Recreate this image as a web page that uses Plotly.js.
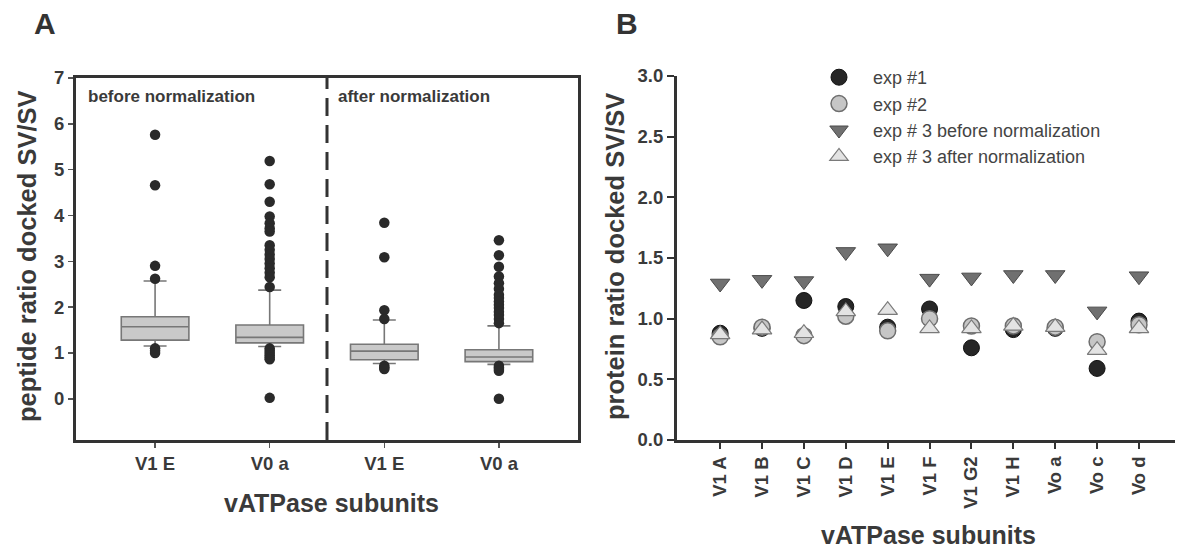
<!DOCTYPE html>
<html>
<head>
<meta charset="utf-8">
<script src="https://cdn.plot.ly/plotly-3.0.1.min.js"></script>
<style>html,body{margin:0;padding:0;background:#fff;}#chart{width:1177px;height:548px;}</style>
</head>
<body>
<div id="chart"></div>
<script>
// ---------- Panel A data (box plots) ----------
const boxPositions = [0, 1, 2, 3];
const boxTickLabels = ["V1 E", "V0 a", "V1 E", "V0 a"];
const boxQ1 = [1.28, 1.22, 0.85, 0.81];
const boxMedian = [1.57, 1.34, 1.04, 0.91];
const boxQ3 = [1.79, 1.61, 1.19, 1.07];
const boxLowerFence = [1.15, 1.14, 0.77, 0.75];
const boxUpperFence = [2.57, 2.37, 1.72, 1.59];

const outV1E_before = [5.76, 4.66, 2.90, 2.62, 1.10, 1.05, 1.00];
const outV0a_before = [5.19, 4.68, 4.30, 3.98, 3.83, 3.72, 3.65, 3.35, 3.25, 3.15, 3.05, 2.95, 2.85, 2.75, 2.65, 2.44, 1.10, 1.05, 1.00, 0.95, 0.90, 0.86, 0.02];
const outV1E_after = [3.84, 3.09, 1.93, 1.74, 0.72, 0.68, 0.65];
const outV0a_after = [3.46, 3.13, 2.88, 2.67, 2.52, 2.40, 2.27, 2.20, 2.12, 2.05, 1.98, 1.90, 1.83, 1.74, 1.65, 0.72, 0.68, 0.65, 0.61, 0.00];

// ---------- Panel B data ----------
const subunits = ["V1 A", "V1 B", "V1 C", "V1 D", "V1 E", "V1 F", "V1 G2", "V1 H", "Vo a", "Vo c", "Vo d"];
const exp1 = [0.88, 0.92, 1.15, 1.10, 0.93, 1.08, 0.76, 0.91, 0.92, 0.59, 0.98];
const exp2 = [0.85, 0.93, 0.86, 1.02, 0.90, 1.00, 0.94, 0.94, 0.93, 0.81, 0.95];
const exp3Before = [1.29, 1.32, 1.31, 1.55, 1.58, 1.33, 1.34, 1.36, 1.36, 1.06, 1.35];
const exp3After = [0.87, 0.91, 0.88, 1.06, 1.07, 0.92, 0.92, 0.94, 0.93, 0.74, 0.92];
const legendNames = ["exp #1", "exp #2", "exp # 3 before normalization", "exp # 3 after normalization"];

// ---------- helpers ----------
const W = 1177, H = 548;
const px = x => x / W;
const py = y => 1 - y / H;
const FONT = "Liberation Sans, Arial, Helvetica, sans-serif";
const TXT = "#3a3a3a";
const AX = "#333333";

const outX = [], outY = [];
[outV1E_before, outV0a_before, outV1E_after, outV0a_after].forEach((arr, i) => {
  arr.forEach(v => { outX.push(boxPositions[i]); outY.push(v); });
});

const traces = [
  {
    type: "box", xaxis: "x", yaxis: "y",
    x: boxPositions, q1: boxQ1, median: boxMedian, q3: boxQ3,
    lowerfence: boxLowerFence, upperfence: boxUpperFence,
    boxpoints: false, width: 0.59, whiskerwidth: 0.34,
    fillcolor: "#c9c9c9", line: {color: "#777777", width: 1.6},
    showlegend: false, hoverinfo: "skip"
  },
  {
    type: "scatter", mode: "markers", xaxis: "x", yaxis: "y",
    x: outX, y: outY,
    marker: {size: 10.5, color: "#2a2a2a"},
    showlegend: false, hoverinfo: "skip"
  },
  {
    type: "scatter", mode: "markers", xaxis: "x2", yaxis: "y2", name: legendNames[0],
    x: subunits, y: exp1,
    marker: {symbol: "circle", size: 16, color: "#262626", line: {color: "#111111", width: 1}}
  },
  {
    type: "scatter", mode: "markers", xaxis: "x2", yaxis: "y2", name: legendNames[1],
    x: subunits, y: exp2,
    marker: {symbol: "circle", size: 16, color: "#c6c6c6", line: {color: "#6e6e6e", width: 1.5}}
  },
  {
    type: "scatter", mode: "markers", xaxis: "x2", yaxis: "y2", name: legendNames[2],
    x: subunits, y: exp3Before,
    marker: {symbol: "triangle-down", size: 17, color: "#707070", line: {color: "#4a4a4a", width: 1}}
  },
  {
    type: "scatter", mode: "markers", xaxis: "x2", yaxis: "y2", name: legendNames[3],
    x: subunits, y: exp3After,
    marker: {symbol: "triangle-up", size: 17, color: "#e3e3e3", line: {color: "#7a7a7a", width: 1.2}}
  }
];

const tickFont = {family: FONT, size: 18.5, color: TXT, weight: "bold"};

const layout = {
  width: W, height: H,
  margin: {l: 0, r: 0, t: 0, b: 0},
  paper_bgcolor: "#ffffff", plot_bgcolor: "#ffffff",
  font: {family: FONT, color: TXT},
  showlegend: true,
  legend: {
    x: px(805), y: py(59), xanchor: "left", yanchor: "top",
    font: {family: FONT, size: 18, color: "#444444"},
    itemwidth: 58, tracegroupgap: 0, bgcolor: "rgba(0,0,0,0)"
  },
  xaxis: {
    domain: [px(76), px(578)], anchor: "y",
    range: [-0.69, 3.69], tickvals: boxPositions, ticktext: boxTickLabels,
    showline: true, linewidth: 3, linecolor: AX, mirror: true,
    ticks: "outside", ticklen: 5, tickwidth: 1.5, tickcolor: "#555",
    showgrid: false, zeroline: false, tickfont: tickFont
  },
  yaxis: {
    domain: [py(440), py(78)], anchor: "x",
    range: [-0.9, 7], dtick: 1, tick0: 0,
    showline: true, linewidth: 3, linecolor: AX, mirror: true,
    ticks: "outside", ticklen: 5, tickwidth: 1.5, tickcolor: "#555",
    showgrid: false, zeroline: false, tickfont: tickFont
  },
  xaxis2: {
    domain: [px(677), px(1175)], anchor: "y2", type: "category",
    range: [-1.03, 10.86], tickangle: -90,
    showline: true, linewidth: 3, linecolor: AX,
    ticks: "outside", ticklen: 6, tickwidth: 2, tickcolor: AX,
    showgrid: false, zeroline: false, tickfont: tickFont
  },
  yaxis2: {
    domain: [py(440), py(76)], anchor: "x2",
    range: [0, 3], dtick: 0.5, tick0: 0, tickformat: ".1f",
    showline: true, linewidth: 3, linecolor: AX,
    ticks: "outside", ticklen: 7, tickwidth: 2, tickcolor: AX,
    showgrid: false, zeroline: false, tickfont: tickFont
  },
  shapes: [
    {type: "line", xref: "x", yref: "y domain", x0: 1.5, x1: 1.5, y0: 0, y1: 1,
     line: {color: AX, width: 3, dash: "18px,9px"}}
  ],
  annotations: [
    {text: "<b>A</b>", xref: "paper", yref: "paper", x: px(45), y: py(24), showarrow: false,
     font: {family: FONT, size: 30, color: "#333"}, xanchor: "center", yanchor: "middle"},
    {text: "<b>B</b>", xref: "paper", yref: "paper", x: px(627), y: py(24), showarrow: false,
     font: {family: FONT, size: 30, color: "#333"}, xanchor: "center", yanchor: "middle"},
    {text: "<b>before normalization</b>", xref: "paper", yref: "paper", x: px(86), y: py(97), showarrow: false,
     font: {family: FONT, size: 17, color: TXT}, xanchor: "left", yanchor: "middle"},
    {text: "<b>after normalization</b>", xref: "paper", yref: "paper", x: px(336), y: py(97), showarrow: false,
     font: {family: FONT, size: 17, color: TXT}, xanchor: "left", yanchor: "middle"},
    {text: "<b>peptide ratio docked SV/SV</b>", xref: "paper", yref: "paper", x: px(27), y: py(256), showarrow: false,
     textangle: -90, font: {family: FONT, size: 25.5, color: TXT}, xanchor: "center", yanchor: "middle"},
    {text: "<b>protein ratio docked SV/SV</b>", xref: "paper", yref: "paper", x: px(615), y: py(257), showarrow: false,
     textangle: -90, font: {family: FONT, size: 25.5, color: TXT}, xanchor: "center", yanchor: "middle"},
    {text: "<b>vATPase subunits</b>", xref: "paper", yref: "paper", x: px(331), y: py(503), showarrow: false,
     font: {family: FONT, size: 25, color: TXT}, xanchor: "center", yanchor: "middle"},
    {text: "<b>vATPase subunits</b>", xref: "paper", yref: "paper", x: px(928), y: py(535), showarrow: false,
     font: {family: FONT, size: 25, color: TXT}, xanchor: "center", yanchor: "middle"}
  ]
};

Plotly.newPlot("chart", traces, layout, {displayModeBar: false, staticPlot: true});
</script>
</body>
</html>
